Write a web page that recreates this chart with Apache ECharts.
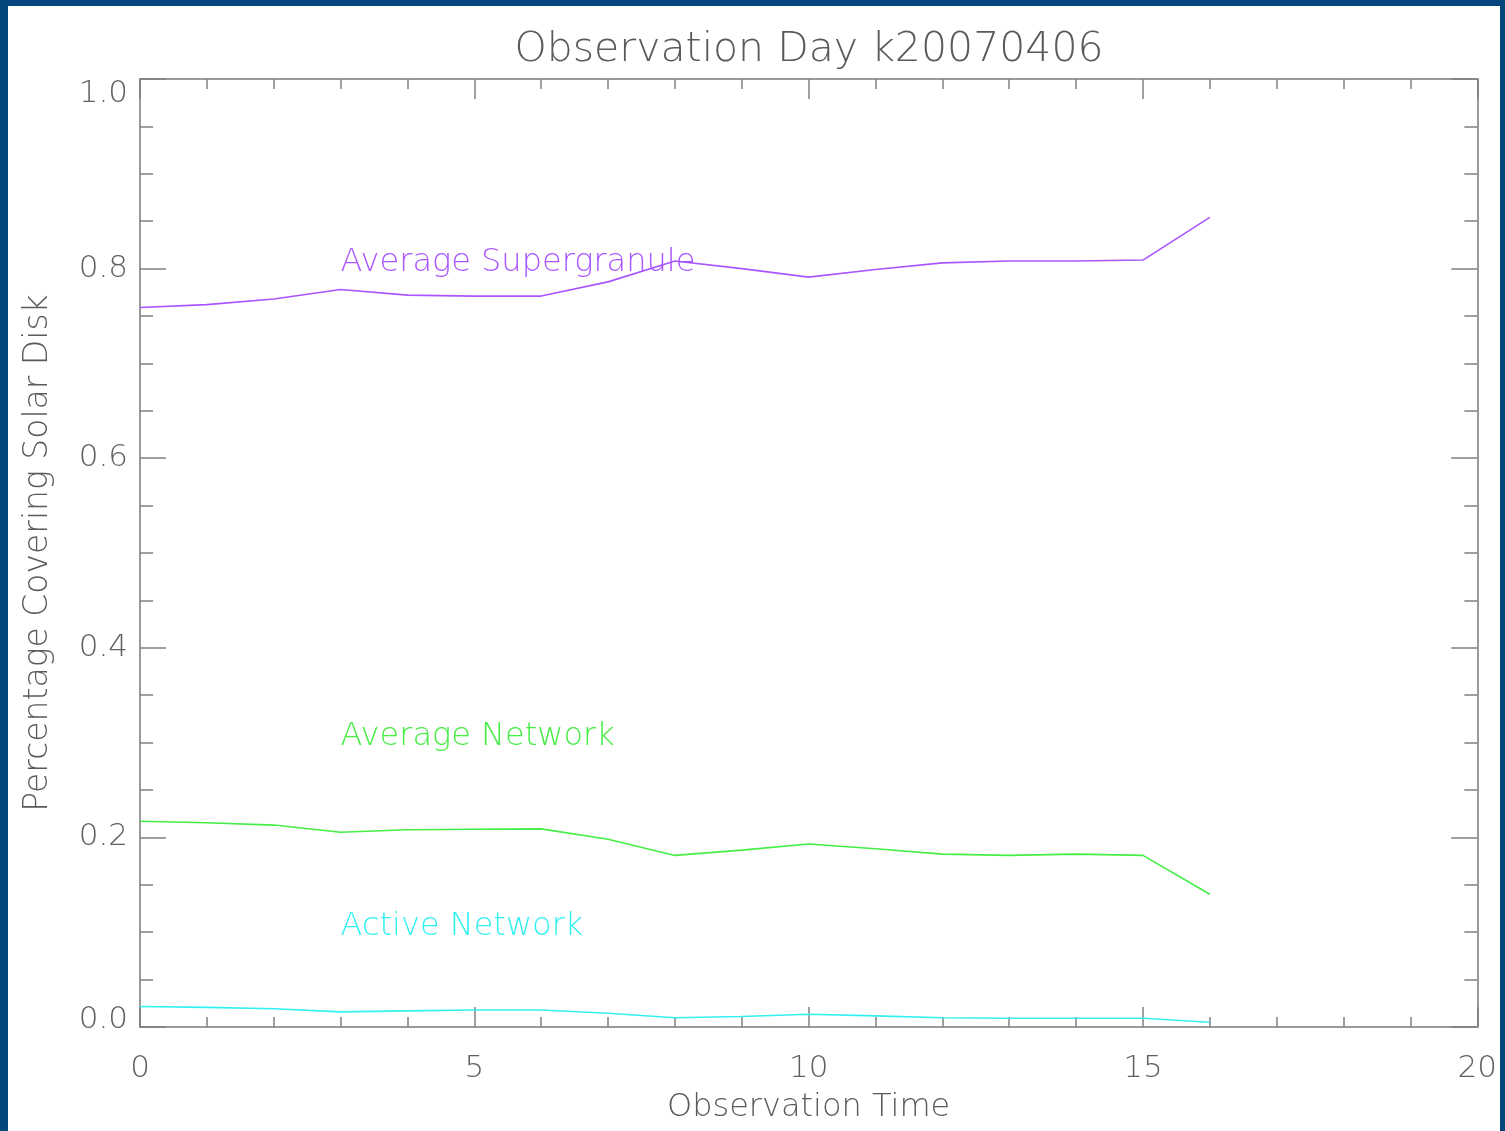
<!DOCTYPE html>
<html>
<head>
<meta charset="utf-8">
<script src="https://cdn.jsdelivr.net/npm/echarts@6/dist/echarts.min.js"></script>
<style>
html,body{margin:0;padding:0;background:#02467d;width:1505px;height:1131px;overflow:hidden;}
#chart{position:absolute;left:8px;top:6px;width:1492px;height:1125px;background:#ffffff;}
</style>
</head>
<body>
<div id="chart"></div>
<script>
const titleText = 'Observation Day k20070406';
const xName = 'Observation Time';
const yName = 'Percentage Covering Solar Disk';
const obsTime = [0,1,2,3,4,5,6,7,8,9,10,11,12,13,14,15,16];
const supergranule = [0.759,0.762,0.768,0.778,0.772,0.771,0.771,0.786,0.808,0.800,0.791,0.799,0.806,0.808,0.808,0.809,0.854];
const network = [0.217,0.2155,0.213,0.2055,0.208,0.2086,0.209,0.198,0.181,0.1866,0.193,0.188,0.1824,0.181,0.1824,0.181,0.140];
const activeNetwork = [0.0217,0.0207,0.0193,0.016,0.017,0.018,0.018,0.0145,0.0097,0.011,0.0134,0.0117,0.0097,0.0093,0.0093,0.0093,0.005];
const seriesNames = ['Average Supergranule','Average Network','Active Network'];
const seriesColors = ['#aa55ff','#44ee44','#33f0f0'];
const labelAnchors = [[3,0.8],[3,0.3],[3,0.1]];

const FONT = 'DejaVu Sans';
const chart = echarts.init(document.getElementById('chart'), null, {renderer:'canvas'});

function pairs(xs, ys){ return xs.map((x,i)=>[x, ys[i]]); }
const allData = [supergranule, network, activeNetwork];

const series = allData.map((d,i)=>({
  name: seriesNames[i],
  type: 'line',
  data: pairs(obsTime, d),
  showSymbol: false,
  symbol: 'none',
  lineStyle: {color: seriesColors[i], width: 1.6},
  itemStyle: {color: seriesColors[i]},
  z: 3,
  markPoint: {
    symbol: 'circle',
    symbolSize: 0,
    silent: true,
    data: [{coord: labelAnchors[i], value: seriesNames[i]}],
    label: {
      show: true,
      position: [0, 0],
      align: 'left',
      verticalAlign: 'bottom',
      formatter: seriesNames[i],
      color: seriesColors[i],
      fontFamily: FONT,
      fontWeight: 200,
      fontSize: 32,
      padding: [0,0,-10,0]
    }
  }
}));

const axisLineStyle = {color: '#9a9a9a', width: 2};
const tickStyle = {color: '#808080', width: 1.5};

function yLabelFmt(v){
  if (Math.abs(v-1) < 1e-9) return '{top|' + v.toFixed(1) + '}';
  if (Math.abs(v) < 1e-9) return '{bot|' + v.toFixed(1) + '}';
  return v.toFixed(1);
}

chart.setOption({
  animation: false,
  backgroundColor: '#ffffff',
  title: {
    text: titleText,
    left: 796,
    textAlign: 'center',
    top: 19,
    textStyle: {fontFamily: FONT, fontWeight: 200, fontSize: 41, color: '#5a5a5a'}
  },
  grid: {left: 132, top: 73, right: 21, bottom: 104, containLabel: false},
  xAxis: [{
    type: 'value', min: 0, max: 20, interval: 5, position: 'bottom',
    name: xName, nameLocation: 'middle', nameGap: 65,
    nameTextStyle: {fontFamily: FONT, fontWeight: 200, fontSize: 32, color: '#5a5a5a'},
    axisLine: {show: true, onZero: false, lineStyle: axisLineStyle},
    axisTick: {show: true, inside: true, length: 20, lineStyle: tickStyle},
    minorTick: {show: true, splitNumber: 5, length: 10, lineStyle: tickStyle},
    splitLine: {show: false},
    axisLabel: {fontFamily: FONT, fontWeight: 200, fontSize: 31, color: '#606060', margin: 26}
  },{
    type: 'value', min: 0, max: 20, interval: 5, position: 'top',
    axisLine: {show: true, onZero: false, lineStyle: axisLineStyle},
    axisTick: {show: true, inside: true, length: 20, lineStyle: tickStyle},
    minorTick: {show: true, splitNumber: 5, length: 10, lineStyle: tickStyle},
    splitLine: {show: false},
    axisLabel: {show: false}
  }],
  yAxis: [{
    type: 'value', min: 0, max: 1, interval: 0.2, position: 'left',
    name: yName, nameLocation: 'middle', nameGap: 85, nameRotate: 90,
    nameTextStyle: {fontFamily: FONT, fontWeight: 200, fontSize: 33, color: '#5a5a5a', padding: [0,0,0,0]},
    axisLine: {show: true, onZero: false, lineStyle: axisLineStyle},
    axisTick: {show: true, inside: true, length: 26, lineStyle: tickStyle},
    minorTick: {show: true, splitNumber: 4, length: 13, lineStyle: tickStyle},
    splitLine: {show: false},
    axisLabel: {
      fontFamily: FONT, fontWeight: 200, fontSize: 31, color: '#606060', margin: 12,
      formatter: yLabelFmt,
      rich: {
        top: {fontFamily: FONT, fontWeight: 200, fontSize: 31, color: '#606060', padding: [30,0,0,0]},
        bot: {fontFamily: FONT, fontWeight: 200, fontSize: 31, color: '#606060', padding: [0,0,14,0]}
      }
    }
  },{
    type: 'value', min: 0, max: 1, interval: 0.2, position: 'right',
    axisLine: {show: true, onZero: false, lineStyle: axisLineStyle},
    axisTick: {show: true, inside: true, length: 26, lineStyle: tickStyle},
    minorTick: {show: true, splitNumber: 4, length: 13, lineStyle: tickStyle},
    splitLine: {show: false},
    axisLabel: {show: false}
  }],
  series: series
});
</script>
</body>
</html>
